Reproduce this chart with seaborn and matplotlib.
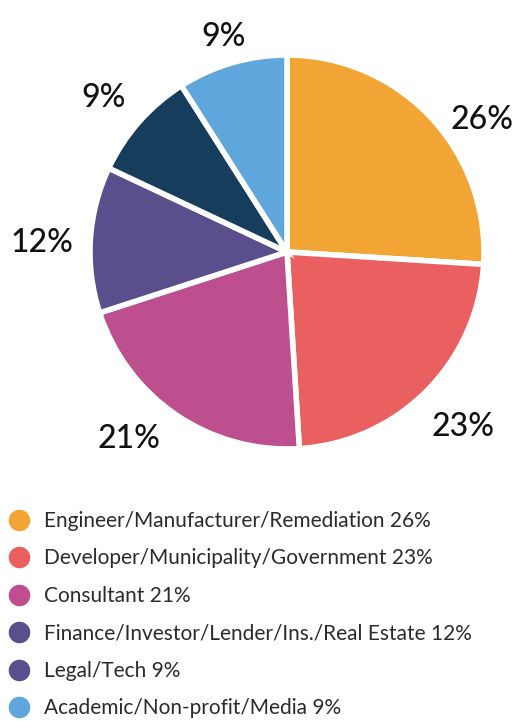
import matplotlib
matplotlib.use("Agg")
import matplotlib.pyplot as plt
import seaborn as sns
import numpy as np
from matplotlib.lines import Line2D

sns.set_theme(style="white")
plt.rcParams['font.family'] = ['Lato', 'DejaVu Sans']

categories = ["Engineer/Manufacturer/Remediation", "Developer/Municipality/Government",
              "Consultant", "Finance/Investor/Lender/Ins./Real Estate", "Legal/Tech",
              "Academic/Non-profit/Media"]
values = [26, 23, 21, 12, 9, 9]
slice_colors = ["#F2A535", "#EA5F5F", "#BD4F8F", "#5A4F8C", "#163D5C", "#5EA6DB"]
legend_colors = ["#F2A535", "#EA5F5F", "#BD4F8F", "#5A4F8C", "#5A4F8C", "#5EA6DB"]
# label placement tweaks (radial distance, angular offset in degrees)
label_dist = [1.195, 1.26, 1.245, 1.245, 1.215, 1.14]
label_dang = [-9.0, 0.3, -6.0, 1.6, 1.5, 0.3]

fig = plt.figure(figsize=(5.14, 7.21), dpi=100)
R = 197.0
half = 240.0
cx, cy = 287.0, 252.0
ax = fig.add_axes([(cx - half) / 514, (721 - cy - half) / 721, 2 * half / 514, 2 * half / 721])

wedges, _ = ax.pie(values, colors=slice_colors, startangle=90, counterclock=False,
                   wedgeprops=dict(edgecolor="white", linewidth=4), radius=1.0)
lim = half / R
ax.set_xlim(-lim, lim)
ax.set_ylim(-lim, lim)
ax.set_aspect('equal')
ax.axis('off')

for w, v, d, da in zip(wedges, values, label_dist, label_dang):
    mid = np.deg2rad((w.theta1 + w.theta2) / 2 + da)
    ax.text(d * np.cos(mid), d * np.sin(mid), f"{v}%", ha="center", va="center",
            fontsize=23, color="#111111", fontweight="medium")

handles = [Line2D([0], [0], marker='o', linestyle='', markersize=14.5,
                  markerfacecolor=c, markeredgecolor=c) for c in legend_colors]
labels = [f"{c} {v}%" for c, v in zip(categories, values)]
leg = fig.legend(handles, labels, loc="upper left", bbox_to_anchor=(8 / 514, 1 - 511 / 721),
                 frameon=False, fontsize=15.0, labelspacing=0.84, handletextpad=0.65,
                 handlelength=1.1, borderaxespad=0.0, borderpad=0.0)
for t in leg.get_texts():
    t.set_color("#2b2b2b")
    t.set_fontweight("normal")

fig.savefig("out.png", dpi=100, facecolor="white")
